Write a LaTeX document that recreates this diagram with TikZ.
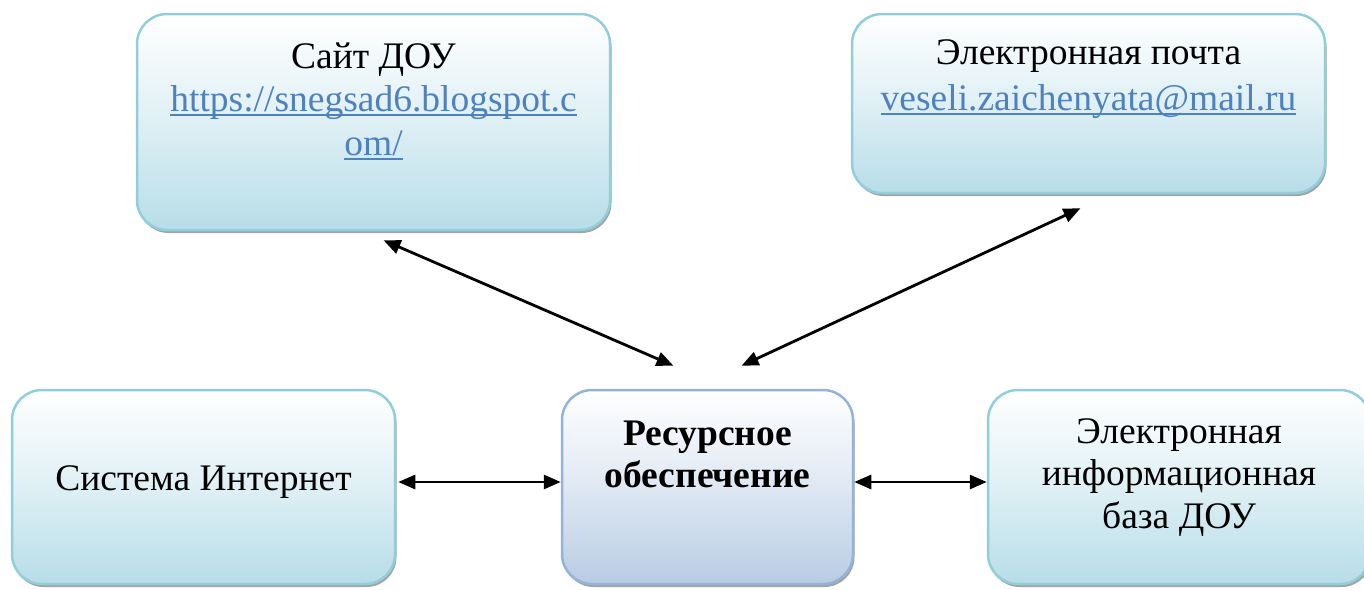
\documentclass[tikz,border=0pt]{standalone}
\usepackage{fontspec}
\setmainfont{Liberation Serif}
\usetikzlibrary{arrows.meta,calc,shadows}
\definecolor{tealborder}{HTML}{92CDDC}
\definecolor{tealfill}{HTML}{B7DDE8}
\definecolor{blueborder}{HTML}{95B3D7}
\definecolor{bluefill}{HTML}{B8CCE4}
\definecolor{linkblue}{HTML}{4F81BD}
\newcommand{\mylnk}[1]{{\color{linkblue}\setbox0=\hbox{#1}\rlap{\rule[-4.5pt]{\wd0}{2pt}}\box0}}
\begin{document}
\begin{tikzpicture}[x=1pt,y=-1pt,
  boxbase/.style={line width=2.5pt, rounded corners=30pt, inner sep=0pt,
    drop shadow={shadow xshift=1.5pt, shadow yshift=-3pt, fill=black!45, opacity=0.8}},
  tealbox/.style={boxbase, draw=tealborder, top color=white, bottom color=tealfill, middle color=tealfill!45},
  bluebox/.style={boxbase, draw=blueborder, top color=white, bottom color=bluefill, middle color=bluefill!45},
  txt/.style={font=\fontsize{37.5}{43.5}\selectfont, align=center, inner sep=0pt, anchor=base},
  conn/.style={{Triangle[length=17pt,width=14pt]}-{Triangle[length=17pt,width=14pt]}, line width=2.8pt, black}
]
\useasboundingbox (0,0) rectangle (1364,589);

\node[tealbox, minimum width=473pt, minimum height=216pt] (site) at (373.5,122) {};
\node[tealbox, minimum width=473pt, minimum height=179pt] (mail) at (1088.5,103.5) {};
\node[tealbox, minimum width=383pt, minimum height=194pt] (inet) at (203.5,487) {};
\node[bluebox, minimum width=291pt, minimum height=194pt] (res) at (707.5,487) {};
\node[tealbox, minimum width=382pt, minimum height=194pt] (base) at (1179,487) {};

\node[txt] (sitetext) at (373.5,155) {Сайт ДОУ\\\mylnk{https://snegsad6.blogspot.c}\\\mylnk{om/}};
\node[txt, font=\fontsize{37.5}{46}\selectfont] (mailtext) at (1088.5,110) {Электронная почта\\\mylnk{veseli.zaichenyata@mail.ru}};
\node[txt] (inettext) at (203.5,490) {Система Интернет};
\node[txt, font=\fontsize{37.5}{42}\selectfont\bfseries] (restext) at (707.5,487) {Ресурсное\\обеспечение};
\node[txt, font=\fontsize{37.5}{42.5}\selectfont] (basetext) at (1179,528) {Электронная\\информационная\\база ДОУ};

\coordinate (c1) at ($(site.south)+(10,9)$);
\coordinate (c2) at ($(res.north)+(-34,-23)$);
\coordinate (c3) at ($(mail.south)+(-8,14)$);
\coordinate (c4) at ($(res.north)+(34,-23)$);
\coordinate (c5) at ($(inet.east)+(2,-5)$);
\coordinate (c6) at ($(res.west)+(0,-5)$);
\coordinate (c7) at ($(res.east)+(0,-5)$);
\coordinate (c8) at ($(base.west)+(0,-5)$);

\draw[conn] (c1) -- (c2);
\draw[conn] (c3) -- (c4);
\draw[conn] (c5) -- (c6);
\draw[conn] (c7) -- (c8);
\end{tikzpicture}
\end{document}
